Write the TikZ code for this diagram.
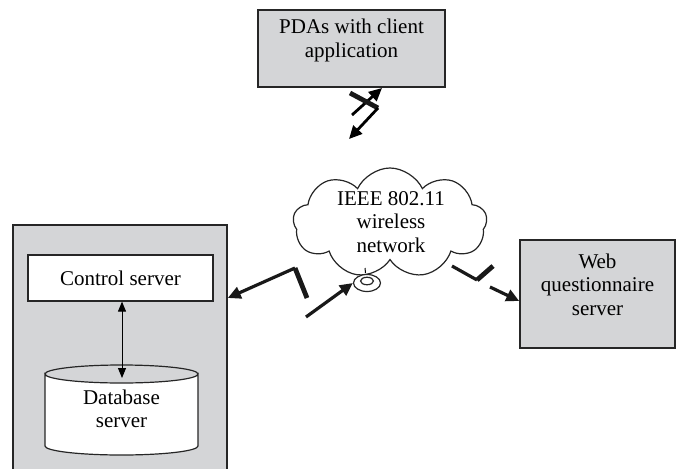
\documentclass[tikz,border=0pt]{standalone}
\usepackage{fontspec}
\setmainfont{Liberation Serif}
\usetikzlibrary{arrows.meta,shapes.symbols,shapes.geometric}
\definecolor{boxgray}{RGB}{212,213,215}
\tikzset{
  graybox/.style={draw=black!85, line width=1.5pt, fill=boxgray, align=center, inner sep=0pt},
  whitebox/.style={draw=black!85, line width=1.2pt, fill=white, align=center, inner sep=0pt},
  lab/.style={font=\fontsize{21}{23.5}\selectfont, align=center, inner sep=0pt},
  bolt/.style={line width=3.2pt, black!90},
  boltbar/.style={line width=4.8pt, black!90},
  tip/.style={-{Triangle[length=13pt,width=12pt]}},
}
\begin{document}
\begin{tikzpicture}[x=1pt,y=-1pt]
\useasboundingbox (0,0) rectangle (679,468);

% mobile clients
\node[graybox, minimum width=187pt, minimum height=77pt] (pda) at (351.5,48.5) {};
\node[lab] (pdatext) at (351.5,40.5) {PDAs with client\\application};

% web server
\node[graybox, minimum width=155pt, minimum height=108pt] (web) at (597.5,294) {};
\node[lab] (webtext) at (597.5,284.5) {Web\\questionnaire\\server};

% server room
\node[graybox, minimum width=214pt, minimum height=252pt] (host) at (120,351) {};
\node[whitebox, lab, minimum width=185pt, minimum height=46pt] (ctrl) at (120.5,278)
  {Control server};

% database cylinder
\draw[line width=1.2pt, black!85, fill=white]
  (45,374) -- (45,446) arc[start angle=180, end angle=360, x radius=76.5pt, y radius=9pt]
  -- (198,374) arc[start angle=0, end angle=-180, x radius=76.5pt, y radius=9pt] -- cycle;
\draw[line width=1.2pt, black!85]
  (45,374) arc[start angle=180, end angle=360, x radius=76.5pt, y radius=-9pt];
\node[lab, minimum width=150pt, minimum height=60pt] (db) at (121.5,409) {Database\\server};
\coordinate (dbtop) at (122,378);
\draw[line width=1pt, {Triangle[length=10pt,width=8pt]}-{Triangle[length=10pt,width=8pt]}]
  (ctrl.south -| dbtop) -- (dbtop);

% wireless network
\node[cloud, draw=black!85, line width=1.2pt, fill=white, cloud puffs=9, cloud puff arc=130,
  aspect=1.8, minimum width=194pt, minimum height=110pt]
  (net) at (390,223) {};
\node[lab] (nettext) at (391,222) {IEEE 802.11\\wireless\\network};

% access point
\draw[line width=1pt] (365,268) -- (365.5,273);
\node[draw=black!85, line width=1.2pt, fill=white, ellipse, minimum width=27pt, minimum height=17pt, inner sep=0pt]
  (ap) at (367,283) {};
\node[draw=black!85, line width=1.2pt, ellipse, minimum width=13pt, minimum height=7.5pt, inner sep=0pt]
  (apin) at (367,281) {};
\coordinate (apsrc) at (306,317);
\draw[bolt, tip] (apsrc) -- (ap.west);

% link to the mobile clients
\coordinate (p1) at (352,115);
\coordinate (p2) at (382,88);
\coordinate (p3) at (350,93);
\coordinate (p4) at (378,108);
\coordinate (p5) at (349,139);
\draw[line width=2.8pt, tip] (p1) -- (p2);
\draw[boltbar] (p3) -- (p4);
\draw[line width=2.8pt, tip] (p4) -- (p5);

% link to the server room
\coordinate (l1) at (307,298);
\coordinate (l2) at (295,268);
\draw[boltbar, line cap=butt] (l1) -- (l2);
\draw[bolt, tip] (l2) -- (host.east |- 0,298);

% link to the web server
\coordinate (r1) at (452,266);
\coordinate (r2) at (477,280);
\coordinate (r3) at (493,266);
\coordinate (r4) at (490,287);
\draw[bolt] (r1) -- (r2);
\draw[boltbar] (r2) -- (r3);
\draw[bolt, tip] (r4) -- (web.west |- 0,301);
\end{tikzpicture}
\end{document}
